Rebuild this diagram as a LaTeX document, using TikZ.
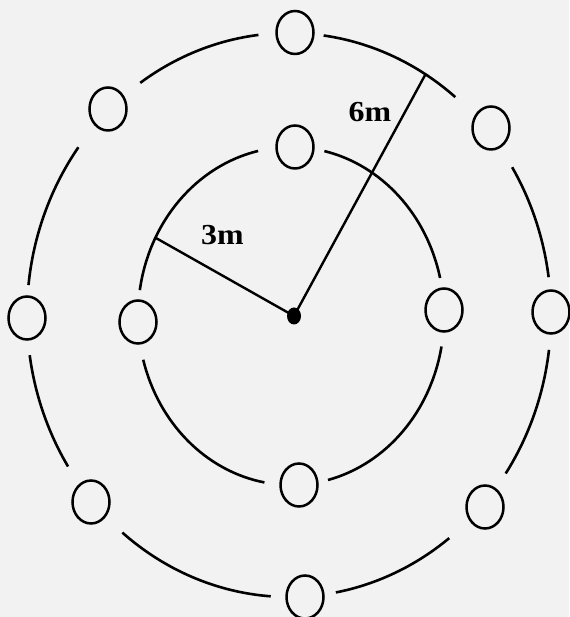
\documentclass[tikz,border=0pt]{standalone}
\usepackage{fontspec}
\setmainfont{Liberation Serif}
\usetikzlibrary{shapes.geometric}
\tikzset{
  hole/.style = {draw=black, line width=2.5pt, ellipse, inner sep=0pt,
                 minimum width=37pt, minimum height=43pt},
  hub/.style  = {fill=black, ellipse, inner sep=0pt,
                 minimum width=14pt, minimum height=17pt},
  ring/.style = {draw=black, line width=2.6pt},
  ray/.style  = {draw=black, line width=2.4pt},
  lbl/.style  = {font=\fontsize{29}{29}\selectfont\bfseries, inner sep=0pt,
                 xscale=1.1},
}

\begin{document}
\begin{tikzpicture}[x=1pt,y=1pt]
\fill[black!5] (0,0) rectangle (569,617);
\useasboundingbox (0,0) rectangle (569,617);
\coordinate (oc) at (289,302);
\coordinate (ic) at (291,301);

%% ---- rings, broken at each sampling point -----------------------------
\foreach \a/\b in {7.7/31.6, 50.6/82.4, 96.7/124.6, 143.5/173.9,
                   188.2/212.5, 230.5/266, 280.3/307.7, 325.8/352.9}
  \draw[ring] (oc) ++(\a:262 and 282)
    arc[start angle=\a, end angle=\b, x radius=262, y radius=282];
\foreach \a/\b in {13/77.4, 102.4/171.2, 195/260, 284/349.6}
  \draw[ring] (ic) ++(\a:153 and 169)
    arc[start angle=\a, end angle=\b, x radius=153, y radius=169];

%% ---- centre and radii -------------------------------------------------
\node[hub] (c) at (294,301) {};
\path (ic) ++(152.4:153 and 169) coordinate (r3);
\path (oc) ++(58.6:262 and 282) coordinate (r6);
\draw[ray] (c.center) -- (r3);
\draw[ray] (c.center) -- (r6);

\node[lbl] (l3) at (222.5,381.5) {3m};
\node[lbl] (l6) at (370,505) {6m};

%% ---- outer sampling points (6m) ---------------------------------------
\node[hole] (o1) at (551,305) {};
\node[hole] (o2) at (491,489) {};
\node[hole] (o3) at (295,584.5) {};
\node[hole] (o4) at (108,508) {};
\node[hole] (o5) at (27,299) {};
\node[hole] (o6) at (91,115) {};
\node[hole] (o7) at (305,20) {};
\node[hole] (o8) at (485,110) {};

%% ---- inner sampling points (3m) ---------------------------------------
\node[hole] (i1) at (444,307) {};
\node[hole] (i2) at (295,470) {};
\node[hole] (i3) at (138,295) {};
\node[hole] (i4) at (299,132) {};
\end{tikzpicture}
\end{document}
